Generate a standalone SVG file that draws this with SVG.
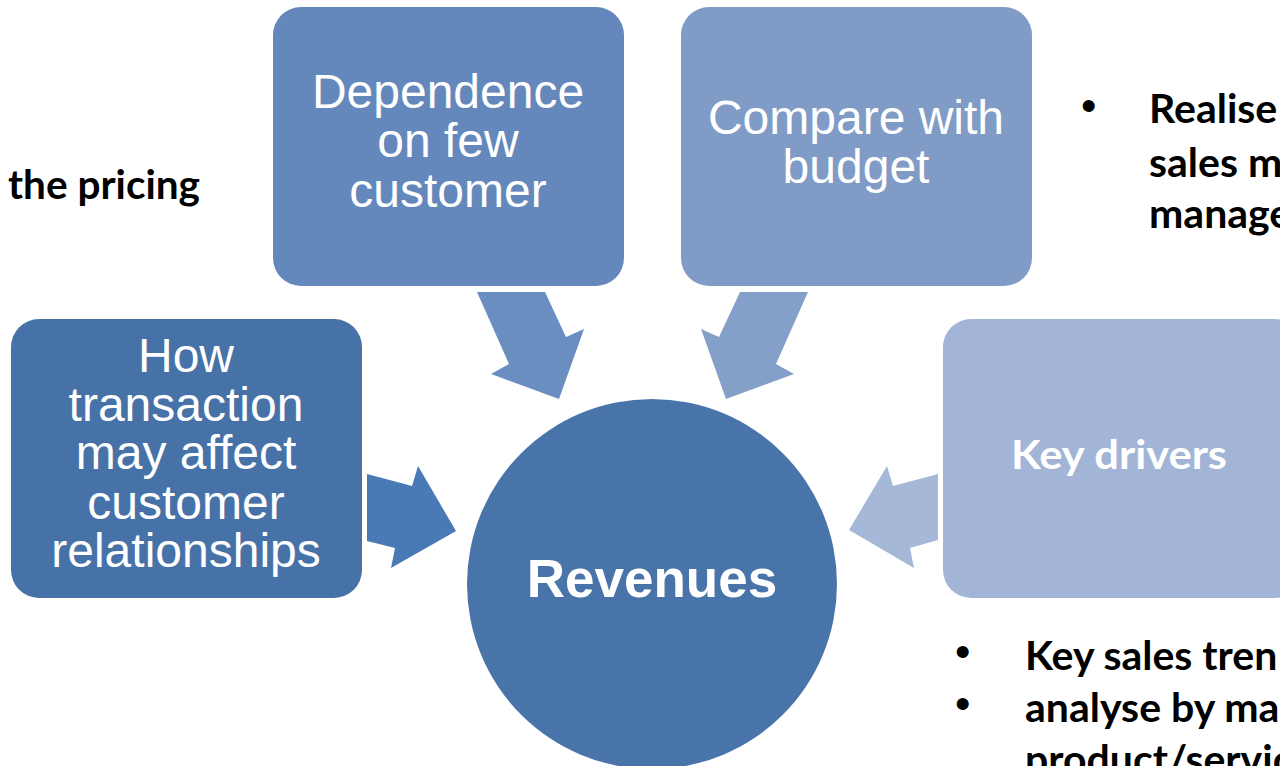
<svg xmlns="http://www.w3.org/2000/svg" width="1280" height="766" viewBox="0 0 1280 766">
<style>
.box{font-family:"Liberation Sans",Arial,sans-serif;font-size:48px;fill:#fff;text-anchor:middle}
.bold{font-family:"Liberation Sans",Arial,sans-serif;font-size:53px;font-weight:bold;fill:#fff;text-anchor:middle}
.cal{font-family:Lato,"Open Sans",sans-serif;font-weight:bold}
.note{font-family:Lato,"Open Sans",sans-serif;font-weight:bold;font-size:41px;fill:#000}
.bul{font-family:"Liberation Sans",Arial,sans-serif;font-size:44px;fill:#000}
</style>
<rect width="1280" height="766" fill="#fff"/>
<g id="connectors">
<polygon points="477,292 545,292 566,337 584,329 559,399 491,374 509,364" fill="#6A8EC0"/>
<polygon points="740,292 808,292 776,364 794,374 726,399 701,329 719,337" fill="#84A0C8"/>
<polygon points="367,474 412,486 418,466 456,531 391,568 395,548 367,541" fill="#4A7AB5"/>
<polygon points="938,474 893,486 887,466 849,530 914,568 910,548 938,540" fill="#A5B8D8"/>
</g>
<g id="revenues">
<circle cx="652" cy="584" r="185" fill="#4874AA"/>
<text class="bold" x="652" y="597">Revenues</text>
</g>
<g id="dependence">
<rect x="273" y="7" width="351" height="279" rx="28" fill="#6488BC"/>
<text class="box" x="448" y="108">Dependence</text>
<text class="box" x="448" y="157">on few</text>
<text class="box" x="448" y="207">customer</text>
</g>
<g id="compare">
<rect x="681" y="7" width="351" height="279" rx="28" fill="#7F9BC6"/>
<text class="box" x="856" y="134">Compare with</text>
<text class="box" x="856" y="183">budget</text>
</g>
<g id="transaction">
<rect x="11" y="319" width="351" height="279" rx="28" fill="#4672A8"/>
<text class="box" x="186" y="372">How</text>
<text class="box" x="186" y="421">transaction</text>
<text class="box" x="186" y="469">may affect</text>
<text class="box" x="186" y="519">customer</text>
<text class="box" x="186" y="567">relationships</text>
</g>
<g id="keydrivers">
<rect x="943" y="319" width="360" height="279" rx="28" fill="#A2B5D6"/>
<text class="cal" x="1011" y="469" font-size="40" fill="#fff" textLength="216" lengthAdjust="spacingAndGlyphs">Key drivers</text>
</g>
<g id="notes">
<text class="note" x="8" y="199" textLength="192" lengthAdjust="spacingAndGlyphs">the pricing</text>
<text class="bul" x="1081" y="121">•</text>
<text class="note" x="1149" y="123">Realise</text>
<text class="note" x="1149" y="177">sales m</text>
<text class="note" x="1149" y="228">manage</text>
<text class="bul" x="955" y="667">•</text>
<text class="note" x="1025" y="670">Key sales tren</text>
<text class="bul" x="955" y="719">•</text>
<text class="note" x="1025" y="722">analyse by ma</text>
<text class="note" x="1025" y="774">product/servic</text>
</g>
</svg>
